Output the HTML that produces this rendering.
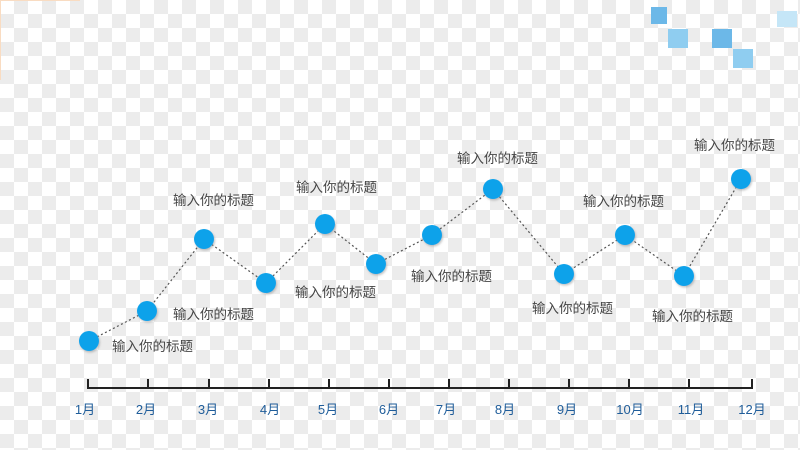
<!DOCTYPE html><html><head><meta charset="utf-8"><style>
body{margin:0;width:800px;height:450px;overflow:hidden;
background-color:#fff;background-image:linear-gradient(45deg,#ececec 25%,transparent 25%,transparent 75%,#ececec 75%),linear-gradient(45deg,#ececec 25%,transparent 25%,transparent 75%,#ececec 75%);background-size:28px 28px;background-position:0 0,14px 14px;}
svg{position:absolute;left:0;top:0}
</style></head><body>
<svg width="800" height="450" font-family="Liberation Sans, Noto Sans CJK SC, sans-serif">
<defs><filter id="s"><feDropShadow dx="1" dy="1.5" stdDeviation="1" flood-color="#888" flood-opacity="0.5"/></filter></defs>
<line x1="0" y1="0.5" x2="80" y2="0.5" stroke="#f9dcc2"/><line x1="0.5" y1="0" x2="0.5" y2="80" stroke="#f9dcc2"/>
<rect x="651" y="7" width="16" height="17" fill="#6cb8e8"/>
<rect x="668" y="29" width="20" height="19" fill="#8fcdf0"/>
<rect x="712" y="29" width="20" height="19" fill="#6cb8e8"/>
<rect x="733" y="49" width="20" height="19" fill="#8fcdf0"/>
<rect x="777" y="11" width="20" height="16" fill="#c5e6f7"/>
<polyline points="89,341 147,311 204,239 266,283 325,224 376,264 432,235 493,189 564,274 625,235 684,276 741,179" fill="none" stroke="#555" stroke-width="1.2" stroke-dasharray="2,2.5"/>
<g fill="#0aa2ea" filter="url(#s)">
<circle cx="89" cy="341" r="10"/><circle cx="147" cy="311" r="10"/><circle cx="204" cy="239" r="10"/><circle cx="266" cy="283" r="10"/><circle cx="325" cy="224" r="10"/><circle cx="376" cy="264" r="10"/><circle cx="432" cy="235" r="10"/><circle cx="493" cy="189" r="10"/><circle cx="564" cy="274" r="10"/><circle cx="625" cy="235" r="10"/><circle cx="684" cy="276" r="10"/><circle cx="741" cy="179" r="10"/>
</g>
<g font-size="13.5" fill="#444">
<text x="112" y="351">输入你的标题</text><text x="173" y="319">输入你的标题</text><text x="173" y="205">输入你的标题</text><text x="295" y="297">输入你的标题</text><text x="296" y="192">输入你的标题</text><text x="411" y="281">输入你的标题</text><text x="457" y="163">输入你的标题</text><text x="583" y="206">输入你的标题</text><text x="532" y="313">输入你的标题</text><text x="652" y="321">输入你的标题</text><text x="694" y="150">输入你的标题</text>
</g>
<line x1="87" y1="388" x2="753" y2="388" stroke="#222" stroke-width="2"/>
<g stroke="#222" stroke-width="2">
<line x1="88" y1="379" x2="88" y2="389"/><line x1="148" y1="379" x2="148" y2="389"/><line x1="209" y1="379" x2="209" y2="389"/><line x1="269" y1="379" x2="269" y2="389"/><line x1="329" y1="379" x2="329" y2="389"/><line x1="389" y1="379" x2="389" y2="389"/><line x1="449" y1="379" x2="449" y2="389"/><line x1="509" y1="379" x2="509" y2="389"/><line x1="569" y1="379" x2="569" y2="389"/><line x1="629" y1="379" x2="629" y2="389"/><line x1="689" y1="379" x2="689" y2="389"/><line x1="752" y1="379" x2="752" y2="389"/>
</g>
<g font-size="13" fill="#1f5d9a" text-anchor="middle">
<text x="85" y="414">1月</text><text x="146" y="414">2月</text><text x="208" y="414">3月</text><text x="270" y="414">4月</text><text x="328" y="414">5月</text><text x="389" y="414">6月</text><text x="446" y="414">7月</text><text x="505" y="414">8月</text><text x="567" y="414">9月</text><text x="630" y="414">10月</text><text x="691" y="414">11月</text><text x="752" y="414">12月</text>
</g>
</svg></body></html>
